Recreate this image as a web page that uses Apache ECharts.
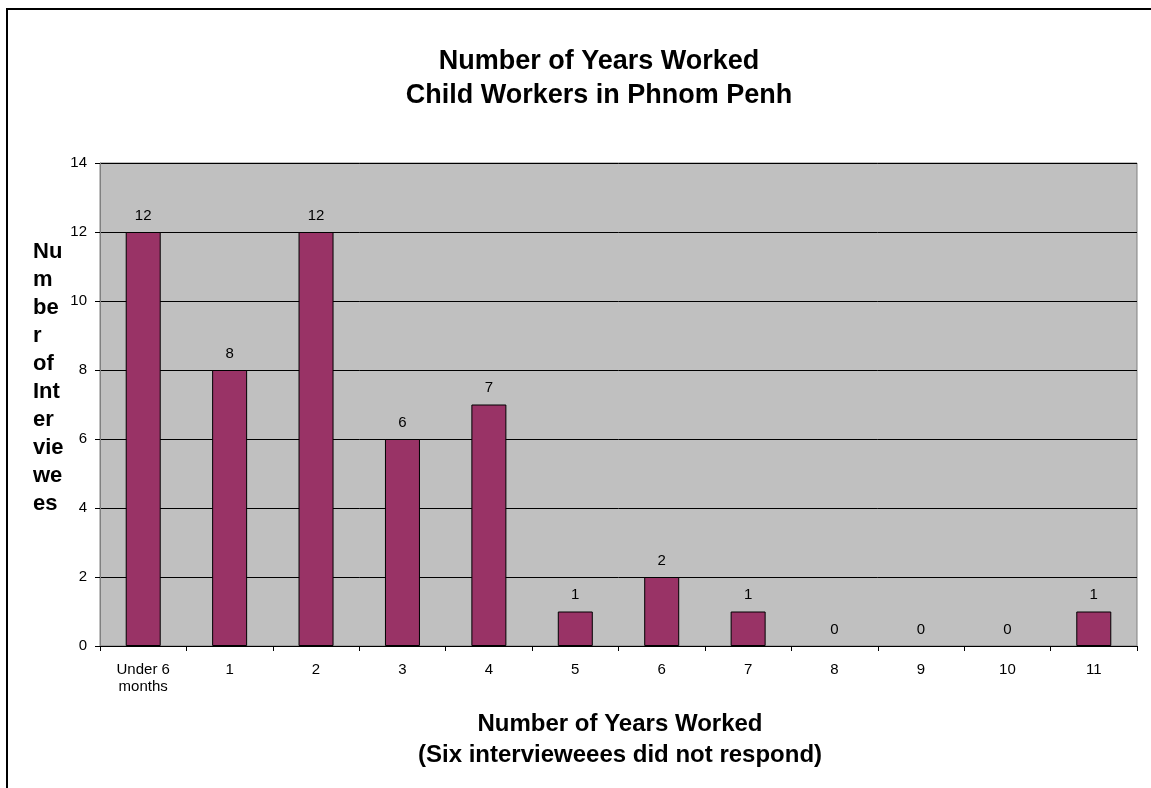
<!DOCTYPE html>
<html>
<head>
<meta charset="utf-8">
<script src="https://cdn.jsdelivr.net/npm/echarts@6/dist/echarts.min.js"></script>
<style>
  html, body { margin: 0; padding: 0; background: #fff; }
  #container { width: 1151px; height: 788px; }
</style>
</head>
<body>
<div id="container"></div>
<script>
var categories = ['Under 6\nmonths', '1', '2', '3', '4', '5', '6', '7', '8', '9', '10', '11'];
var counts = [12, 8, 12, 6, 7, 1, 2, 1, 0, 0, 0, 1];
var yTicks = { min: 0, max: 14, interval: 2 };

var FONT = "'Liberation Sans', Arial, sans-serif";

var dom = document.getElementById('container');
var myChart = echarts.init(dom);

// zero-height bars: no visible outline in the original
var barData = counts.map(function (v) {
	return v === 0 ? { value: v, itemStyle: { borderWidth: 0 } } : v;
});

var option = {
	backgroundColor: '#ffffff',
	animation: false,
	title: {
		text: 'Number of Years Worked\nChild Workers in Phnom Penh',
		left: 594,
		top: 40,
		textAlign: 'center',
		textStyle: {
			fontFamily: FONT,
			fontSize: 27,
			fontWeight: 'bold',
			color: '#000',
			lineHeight: 34
		}
	},
	grid: {
		left: 100,
		right: 14,
		top: 163,
		bottom: 142,
		show: true,
		backgroundColor: '#c0c0c0',
		borderColor: '#808080',
		borderWidth: 1
	},
	xAxis: {
		type: 'category',
		data: categories,
		axisLine: { lineStyle: { color: '#000', width: 1 } },
		axisTick: { show: true, length: 5, lineStyle: { color: '#000' } },
		axisLabel: {
			color: '#000',
			fontFamily: FONT,
			fontSize: 15,
			lineHeight: 17,
			margin: 15,
			interval: 0
		}
	},
	yAxis: {
		type: 'value',
		min: yTicks.min,
		max: yTicks.max,
		interval: yTicks.interval,
		axisLine: { show: true, lineStyle: { color: '#808080' } },
		axisTick: { show: true, length: 5, lineStyle: { color: '#000' } },
		axisLabel: {
			color: '#000',
			fontFamily: FONT,
			fontSize: 15,
			margin: 13
		},
		splitLine: { show: true, lineStyle: { color: '#000', width: 1 } }
	},
	series: [{
		type: 'bar',
		data: barData,
		barWidth: 35,
		itemStyle: {
			color: '#993366',
			borderColor: '#000',
			borderWidth: 1
		},
		label: {
			show: true,
			position: 'top',
			distance: 9,
			color: '#000',
			fontFamily: FONT,
			fontSize: 15
		}
	}],
	graphic: [
		{
			type: 'rect',
			shape: { x: 7, y: 9, width: 1300, height: 1000 },
			style: { fill: 'none', stroke: '#000', lineWidth: 2 },
			silent: true
		},
		{
			type: 'text',
			x: 33,
			y: 238,
			style: {
				text: 'Nu\nm\nbe\nr\nof\nInt\ner\nvie\nwe\nes',
				font: 'bold 22px ' + FONT,
				lineHeight: 28,
				fill: '#000',
				textAlign: 'left'
			}
		},
		{
			type: 'text',
			x: 620,
			y: 709,
			style: {
				text: 'Number of Years Worked\n(Six intervieweees did not respond)',
				font: 'bold 24px ' + FONT,
				lineHeight: 31,
				fill: '#000',
				textAlign: 'center'
			}
		}
	]
};

if (option && typeof option === 'object') {
	myChart.setOption(option, true);
}
</script>
</body>
</html>
